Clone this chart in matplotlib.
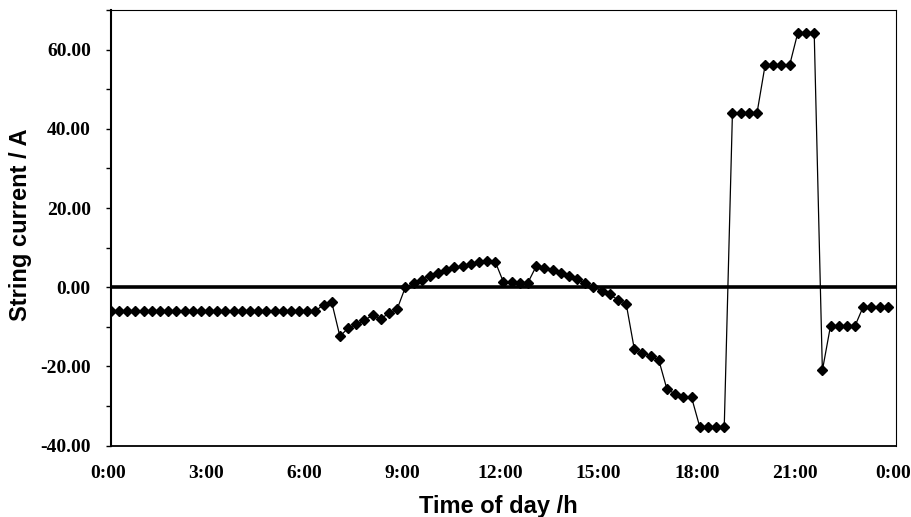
import matplotlib
matplotlib.use("Agg")
import matplotlib.pyplot as plt
import matplotlib.transforms as mtransforms
import numpy as np
from matplotlib.ticker import FixedLocator, MultipleLocator

# 15-minute sampling grid (hours of day)
hours = np.arange(96) * 0.25

current = [
    -6.0, -6.0, -6.0, -6.0, -6.0, -6.0, -6.0, -6.0, -6.0, -6.0,
    -6.0, -6.0, -6.0, -6.0, -6.0, -6.0, -6.0, -6.0, -6.0, -6.0,
    -6.0, -6.0, -6.0, -6.0, -6.0, -6.0,
    -4.4, -3.8, -12.4, -10.3, -9.4, -8.3, -7.1, -7.9, -6.6, -5.5,
    0.0, 1.0, 1.9, 2.9, 3.7, 4.3, 5.0, 5.4, 5.9, 6.3, 6.6, 6.4,
    1.3, 1.3, 1.2, 1.2,
    5.3, 4.9, 4.3, 3.5, 2.8, 2.0, 1.1, 0.1, -0.9, -1.8, -3.2, -4.1,
    -15.6, -16.5, -17.3, -18.4,
    -25.8, -26.9, -27.8, -27.8,
    -35.2, -35.2, -35.2, -35.2,
    43.9, 43.9, 43.9, 43.9,
    56.1, 56.1, 56.1, 56.1,
    64.3, 64.3, 64.3,
    -21.0,
    -9.7, -9.7, -9.7, -9.7,
    -4.9, -4.9, -4.9, -4.9,
]

x_ticks = [0, 3, 6, 9, 12, 15, 18, 21, 24]
x_tick_labels = ["0:00", "3:00", "6:00", "9:00", "12:00", "15:00", "18:00", "21:00", "0:00"]
y_ticks = [-40, -20, 0, 20, 40, 60]

fig = plt.figure(figsize=(9.11, 5.17), dpi=100)
ax = fig.add_axes([0.1218, 0.1379, 0.8617, 0.8428])

ax.axhline(0, color="black", lw=2.6, zorder=1)
ax.plot(hours, current, color="black", lw=0.9, marker="D", ms=4.8,
        markerfacecolor="black", markeredgecolor="black", zorder=3)

ax.set_xlim(0, 24)
ax.set_ylim(-40, 70)
ax.xaxis.set_major_locator(FixedLocator(x_ticks))
ax.set_xticklabels(x_tick_labels)
ax.yaxis.set_major_locator(FixedLocator(y_ticks))
ax.yaxis.set_minor_locator(MultipleLocator(10))
ax.set_yticklabels([f"{v:.2f}" for v in y_ticks])

ax.tick_params(axis="x", length=0, pad=14)
ax.tick_params(axis="y", which="both", direction="out", length=3.5, width=1.0, pad=11)

# tick labels sit a touch left of their ticks in the original
# (done after tick_params, which resets the label transforms)
shift = mtransforms.ScaledTranslation(-3.0 / 100, 0, fig.dpi_scale_trans)
for lbl in ax.get_xticklabels():
    lbl.set_transform(lbl.get_transform() + shift)

for lbl in ax.get_xticklabels() + ax.get_yticklabels():
    lbl.set_fontfamily("Liberation Serif")
    lbl.set_fontweight("bold")
    lbl.set_fontsize(14)

for side, lw in (("left", 1.5), ("bottom", 1.3), ("top", 0.8), ("right", 0.8)):
    ax.spines[side].set_linewidth(lw)
    ax.spines[side].set_color("black")

label_font = dict(family="Liberation Sans", weight="bold", size=17)
ax.set_xlabel("Time of day /h", **label_font)
ax.set_ylabel("String current / A", **label_font)
ax.xaxis.set_label_coords(0.493, -0.113)
ax.yaxis.set_label_coords(-0.1, 0.507)

fig.savefig("out.png", dpi=100)
plt.close(fig)
